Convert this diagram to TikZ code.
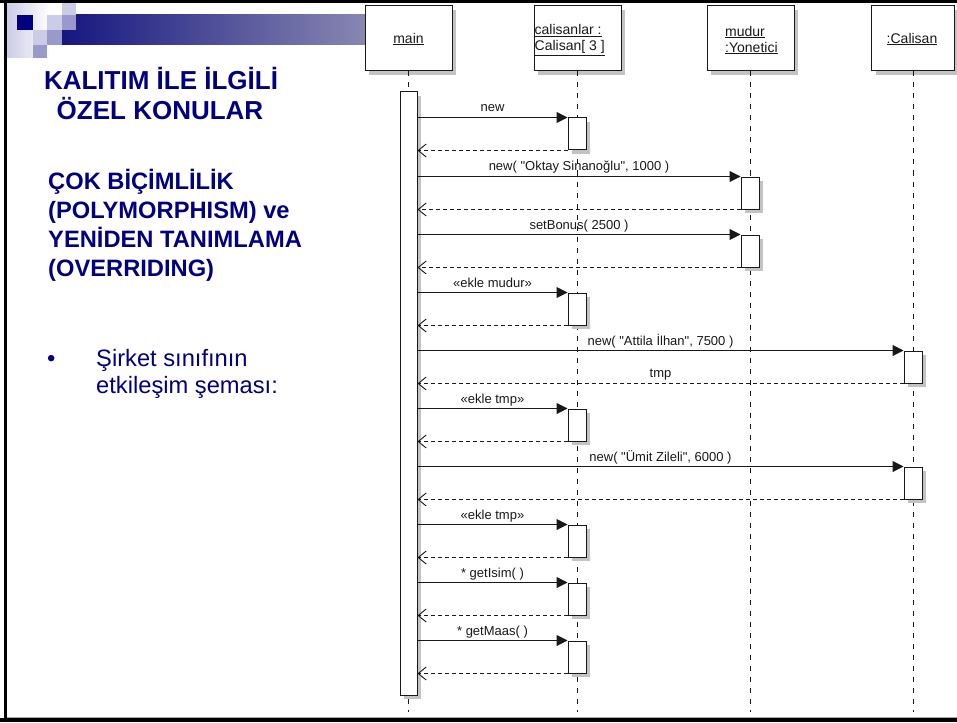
\documentclass[tikz,border=0pt]{standalone}
\usepackage{fontspec}
\setmainfont{Liberation Sans}
\newfontfamily\diagfont[Ligatures=TeXOff]{Liberation Sans}
\usetikzlibrary{arrows.meta,shadows}
\definecolor{navy}{RGB}{0,0,128}
\definecolor{lavl}{RGB}{204,204,230}
\definecolor{lavm}{RGB}{153,153,204}
\definecolor{barl}{RGB}{22,22,128}
\definecolor{barr}{RGB}{136,136,178}
\definecolor{ink}{RGB}{25,25,25}
\definecolor{shade}{RGB}{195,195,195}
\begin{document}
\begin{tikzpicture}[x=1pt,y=-1pt,
  sh/.style={drop shadow={shadow xshift=4pt,shadow yshift=-4pt,fill=shade,opacity=1}},
  hbox/.style={draw=ink,line width=1pt,fill=white,minimum width=87pt,minimum height=65pt,inner sep=0pt,sh},
  htext/.style={text=ink,font=\fontsize{14}{16}\selectfont,inner sep=0pt,align=left},
  actbox/.style={draw=ink,line width=1pt,fill=white,minimum width=18pt,minimum height=32pt,inner sep=0pt,sh},
  lifeline/.style={draw=ink,line width=1pt,dash pattern=on 5pt off 6pt},
  msg/.style={draw=ink,line width=1pt,-{Triangle[length=11pt,width=11pt]}},
  ret/.style={draw=ink,line width=0.9pt,dash pattern=on 4pt off 3pt,-{Straight Barb[length=8pt,width=13pt]}},
  lbl/.style={text=ink,font=\diagfont\fontsize{13}{15}\selectfont,anchor=base,inner sep=0pt},
  ttl/.style={text=navy,font=\fontsize{26}{30}\selectfont\bfseries,anchor=base,inner sep=0pt},
  sub/.style={text=navy,font=\fontsize{23.7}{29}\selectfont\bfseries,anchor=base west,inner sep=0pt},
  bul/.style={text=navy,font=\fontsize{23.7}{27}\selectfont,anchor=base west,inner sep=0pt}
]
\useasboundingbox (0,0) rectangle (957,722);
\fill[white] (0,0) rectangle (957,722);

% header decoration
\shade[left color=lavl,right color=white] (7,3) rectangle (50,58);
\shade[left color=barl,right color=barr] (62,15) rectangle (366,45);
\fill[lavl] (62,3) rectangle (76,15);
\fill[navy] (17,15) rectangle (33,30);
\fill[lavl] (47,15) rectangle (62,30);
\fill[lavm] (62,15) rectangle (76,30);
\fill[lavl] (33,30) rectangle (47,45);
\fill[lavm] (47,30) rectangle (62,45);
\fill[lavm] (33,45) rectangle (47,58);

% frame
\fill[black] (0,0) rectangle (957,3);
\fill[black] (4,0) rectangle (7,722);
\fill[gray!70] (7,716.5) rectangle (957,718);
\fill[black] (0,718) rectangle (957,722);

% left texts
\node[ttl] (t1) at (161,90) {KALITIM İLE İLGİLİ};
\node[ttl] (t2) at (160,120) {ÖZEL KONULAR};
\node[sub] (s1) at (48,189) {ÇOK BİÇİMLİLİK};
\node[sub] (s2) at (48,218) {(POLYMORPHISM) ve};
\node[sub] (s3) at (48,247) {YENİDEN TANIMLAMA};
\node[sub] (s4) at (48,276) {(OVERRIDING)};
\node[bul] (b0) at (47,366) {•};
\node[bul] (b1) at (96,366) {Şirket sınıfının};
\node[bul] (b2) at (96,393) {etkileşim şeması:};

% lifeline ends
\coordinate (emain) at (408.5,712);
\coordinate (ecal) at (577,712);
\coordinate (emud) at (750,712);
\coordinate (ecls) at (913,712);

% header boxes
\node[hbox] (hmain) at (408.5,38.5) {};
\node[hbox] (hcal) at (577.5,38.5) {};
\node[hbox] (hmud) at (750.5,38.5) {};
\node[hbox,minimum width=83pt] (hcls) at (913,38.5) {};

\draw[lifeline] (hmain.south -| emain) -- (emain);
\draw[lifeline] (hcal.south -| ecal) -- (ecal);
\draw[lifeline] (hmud.south -| emud) -- (emud);
\draw[lifeline] (hcls.south -| ecls) -- (ecls);

\node[htext] (tmain) at (408.5,39) {\underline{main}};
\node[htext,anchor=west] (tcal) at (534.5,40) {\underline{calisanlar :}\\\underline{Calisan[ 3 ]}};
\node[htext,anchor=west] (tmud) at (725,40) {\underline{mudur}\\\underline{:Yonetici}};
\node[htext] (tcls) at (912,39) {\underline{:Calisan}};

% activations
\node[actbox,minimum width=17pt,minimum height=603pt] (mact) at (408.5,393.5) {};
\node[actbox] (a1) at (577,134) {};
\node[actbox] (a2) at (750,193) {};
\node[actbox] (a3) at (750,251) {};
\node[actbox] (a4) at (577,309) {};
\node[actbox] (a5) at (913,367) {};
\node[actbox] (a6) at (577,425) {};
\node[actbox] (a7) at (913,483) {};
\node[actbox] (a8) at (577,541) {};
\node[actbox] (a9) at (577,599) {};
\node[actbox] (a10) at (577,657) {};

% messages
\foreach \a in {a1,a2,a3,a4,a5,a6,a7,a8,a9,a10}{
  \draw[msg] (mact.east |- \a.north west) -- (\a.north west);
  \draw[ret] (\a.south west) -- (mact.east |- \a.south west);
}

% labels
\node[lbl] (l1) at (492.5,112) {new};
\node[lbl] (l2) at (579,171) {new( "Oktay Sinanoğlu", 1000 )};
\node[lbl] (l3) at (579,229) {setBonus( 2500 )};
\node[lbl] (l4) at (492.5,287) {«ekle mudur»};
\node[lbl] (l5) at (660.5,345) {new( "Attila İlhan", 7500 )};
\node[lbl] (l5r) at (660.5,377) {tmp};
\node[lbl] (l6) at (492.5,403) {«ekle tmp»};
\node[lbl] (l7) at (660.5,461) {new( "Ümit Zileli", 6000 )};
\node[lbl] (l8) at (492.5,519) {«ekle tmp»};
\node[lbl] (l9) at (492.5,577) {* getIsim( )};
\node[lbl] (l10) at (492.5,635) {* getMaas( )};
\end{tikzpicture}
\end{document}
